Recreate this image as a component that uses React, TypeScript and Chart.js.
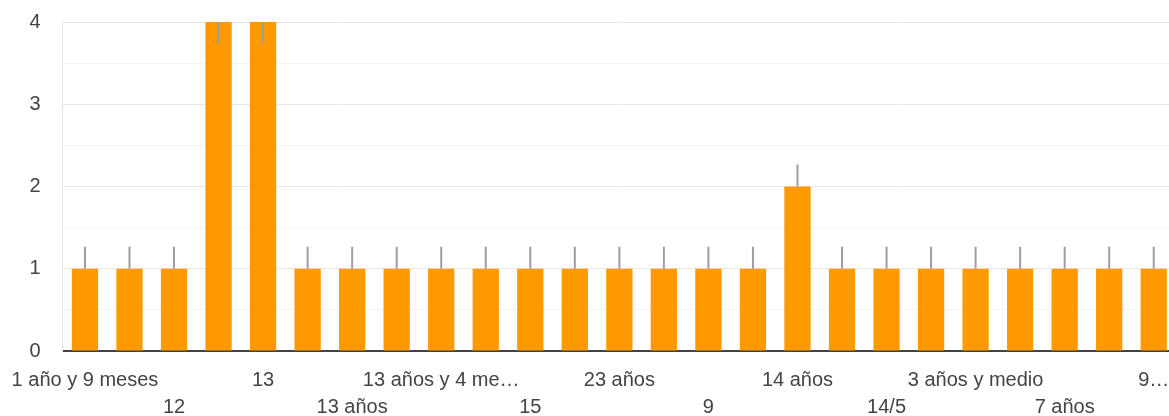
import React, { useEffect, useRef } from "react";
import { Chart, registerables } from "chart.js";

Chart.register(...registerables);

const categories: string[] = [
  "1 año y 9 meses", "11", "12", "14", "13", "10", "13 años", "13 años y medio",
  "13 años y 4 meses", "14 años y 2 meses", "15", "16", "23 años", "8", "9", "10 años",
  "14 años", "15 años", "14/5", "2 años", "3 años y medio", "5 años", "7 años", "8 años", "9 años",
];

const values: number[] = [1, 1, 1, 4, 4, 1, 1, 1, 1, 1, 1, 1, 1, 1, 1, 1, 2, 1, 1, 1, 1, 1, 1, 1, 1];

// Labels as the axis shows them (every second category, alternating rows, truncated)
const tickLabels: string[] = [
  "1 año y 9 meses", "", "12", "", "13", "", "13 años", "",
  "13 años y 4 me…", "", "15", "", "23 años", "", "9", "",
  "14 años", "", "14/5", "", "3 años y medio", "", "7 años", "", "9…",
];

const yTicks: number[] = [0, 1, 2, 3, 4];

const FONT = "'Liberation Sans', Arial, sans-serif";

const stemPlugin = {
  id: "stems",
  afterDatasetsDraw(chart: any) {
    const meta = chart.getDatasetMeta(0);
    const ctx = chart.ctx;
    const area = chart.chartArea;
    const len = 22;
    ctx.save();
    ctx.strokeStyle = "#9e9e9e";
    ctx.lineWidth = 2;
    meta.data.forEach((bar: any) => {
      const x = bar.x;
      const y = bar.y;
      let y1 = y - len;
      let y2 = y;
      if (y1 < area.top) {
        y1 = y;
        y2 = y + len;
      }
      ctx.beginPath();
      ctx.moveTo(x, y1);
      ctx.lineTo(x, y2);
      ctx.stroke();
    });
    ctx.restore();
  },
};

export default function App() {
  const ref = useRef<HTMLCanvasElement | null>(null);

  useEffect(() => {
    if (!ref.current) return;
    const chart = new Chart(ref.current, {
      type: "bar",
      data: {
        labels: categories,
        datasets: [
          {
            data: values,
            backgroundColor: "#ff9900",
            borderWidth: 0,
            barPercentage: 0.59,
            categoryPercentage: 1,
          },
        ],
      },
      plugins: [stemPlugin],
      options: {
        responsive: false,
        animation: false,
        devicePixelRatio: 1,
        layout: { padding: { top: 22, left: 0, right: 0, bottom: 0 } },
        plugins: { legend: { display: false }, tooltip: { enabled: false } },
        scales: {
          x: {
            z: 1,
            grid: { display: false, drawTicks: false },
            border: { display: true, color: "#424242", width: 2 },
            afterFit: (s: any) => {
              s.height = 65;
              s.paddingLeft = 0;
              s.paddingRight = 0;
            },
            ticks: {
              autoSkip: false,
              maxRotation: 0,
              minRotation: 0,
              padding: 16,
              color: "#444",
              font: { family: FONT, size: 20, lineHeight: 1.35 },
              callback: (_v: any, i: number) => {
                const t = tickLabels[i] || "";
                if (!t) return "";
                return i % 4 === 0 ? t : ["", t];
              },
            },
          },
          y: {
            min: 0,
            max: 4,
            grid: {
              drawTicks: false,
              color: (c: any) => (Number.isInteger(c.tick?.value) ? "#e8e8e8" : "#f3f3f3"),
              lineWidth: 1,
            },
            border: { display: true, color: "#e8e8e8", width: 1 },
            afterFit: (s: any) => {
              s.width = 62.7;
              s.paddingTop = 0;
              s.paddingBottom = 0;
            },
            afterBuildTicks: (s: any) => {
              const t: any[] = [];
              for (let v = 0; v <= 4; v += 0.5) t.push({ value: v });
              s.ticks = t;
            },
            ticks: {
              padding: 22,
              color: "#444",
              font: { family: FONT, size: 20 },
              callback: (v: any) => (yTicks.includes(Number(v)) ? String(v) : ""),
            },
          },
        },
      },
    });
    return () => chart.destroy();
  }, []);

  return (
    <div
      style={{
        position: "fixed",
        left: 0,
        top: 0,
        width: 1169,
        height: 416,
        overflow: "hidden",
        background: "#fff",
      }}
    >
      <canvas ref={ref} width={1176} height={416} style={{ width: 1176, height: 416, display: "block" }} />
    </div>
  );
}
